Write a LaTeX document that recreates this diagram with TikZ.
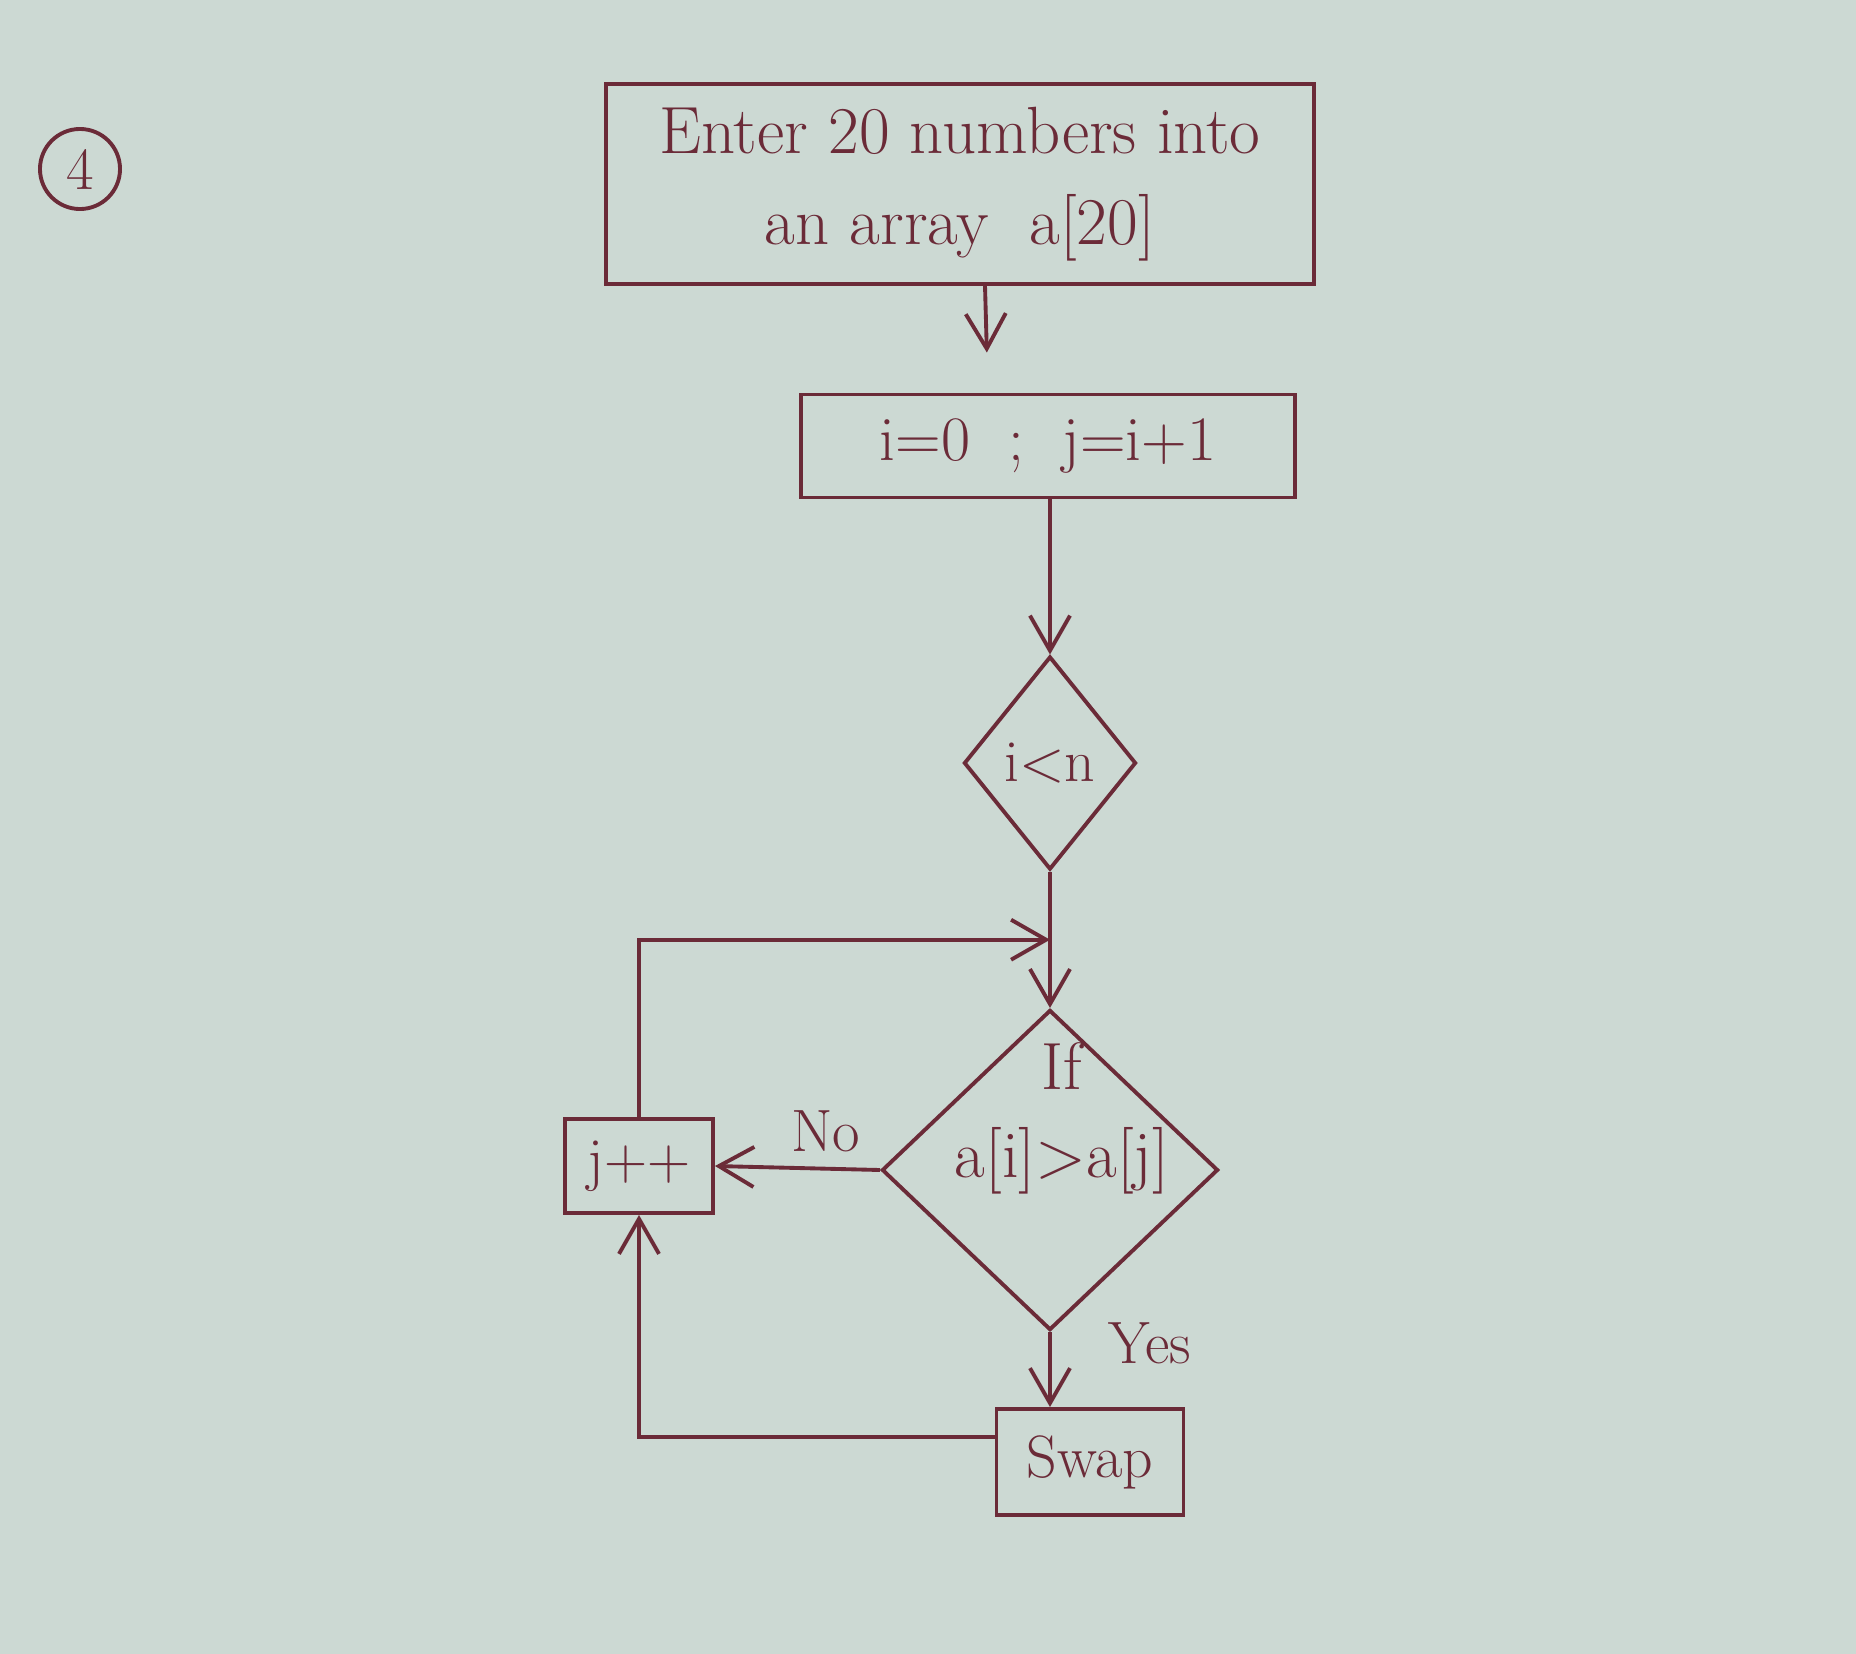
\documentclass[tikz,border=0pt]{standalone}
\usetikzlibrary{shapes.geometric,arrows.meta,calc}
\definecolor{paper}{HTML}{CCD9D3}
\definecolor{ink}{HTML}{6B2B38}
\tikzset{
  box/.style={draw=ink, line width=1.1pt, rectangle, inner sep=0pt, text=ink},
  decision/.style={draw=ink, line width=1.1pt, diamond, inner sep=0pt, text=ink},
  flow/.style={draw=ink, line width=1.1pt, -{Straight Barb[length=3.5mm,width=4mm]}}
  }
\tikzstyle{line} = [draw=ink, line width=1.1pt, -]
\tikzstyle{lbl} = [text=ink, font=\fontsize{17}{22}\selectfont]

\begin{document}
\begin{tikzpicture}[x=0.01cm, y=-0.01cm, font=\fontsize{17}{22}\selectfont]
  \useasboundingbox[fill=paper] (0,0) rectangle (1856,1654);

  \node[circle, draw=ink, line width=1.1pt, minimum size=0.8cm, inner sep=0pt, text=ink] (num) at (80,169) {4};

  \node[box, minimum width=7.08cm, minimum height=2cm, align=center,
        font=\fontsize{19}{26}\selectfont] (enter) at (960,184)
    {Enter 20 numbers into\\an array \ a[20]};
  \node[box, minimum width=4.93cm, minimum height=1.03cm, font=\fontsize{18}{22}\selectfont] (init) at (1048,446)
    {i=0 \ ; \ j=i+1\hspace{0.3cm}};
  \node[decision, minimum width=1.72cm, minimum height=2.13cm] (ifn) at (1050,763) {i<n};
  \node[decision, minimum width=3.36cm, minimum height=3.2cm] (cond) at (1050,1170) {};
  \node[lbl, align=center, font=\fontsize{19}{25}\selectfont] (condtext) at (1062,1118) {If\\a[i]>a[j]};
  \node[box, minimum width=1.48cm, minimum height=0.94cm] (jpp) at (639,1166) {j++};
  \node[box, minimum width=1.87cm, minimum height=1.06cm] (swap) at (1090,1462) {Swap};

  \coordinate (join) at ($(ifn.south)!0.5!(cond.north)$);

  \draw[flow, shorten >=0.4cm] ([xshift=0.25cm]enter.south) -- ([xshift=-0.6cm]init.north);
  \draw[flow] (init.south -| ifn.north) -- (ifn.north);
  \draw[flow] (ifn.south) -- (cond.north);
  \draw[flow] (jpp.north) |- (join);
  \draw[flow] (cond.west) -- node[lbl, pos=0.33, above=1pt] {No} (jpp.east);
  \draw[flow] (cond.south) -- node[lbl, pos=0.15, right=0.45cm] {Yes} (cond.south |- swap.north);
  \draw[flow] ([yshift=0.25cm]swap.west) -| (jpp.south);
\end{tikzpicture}
\end{document}
